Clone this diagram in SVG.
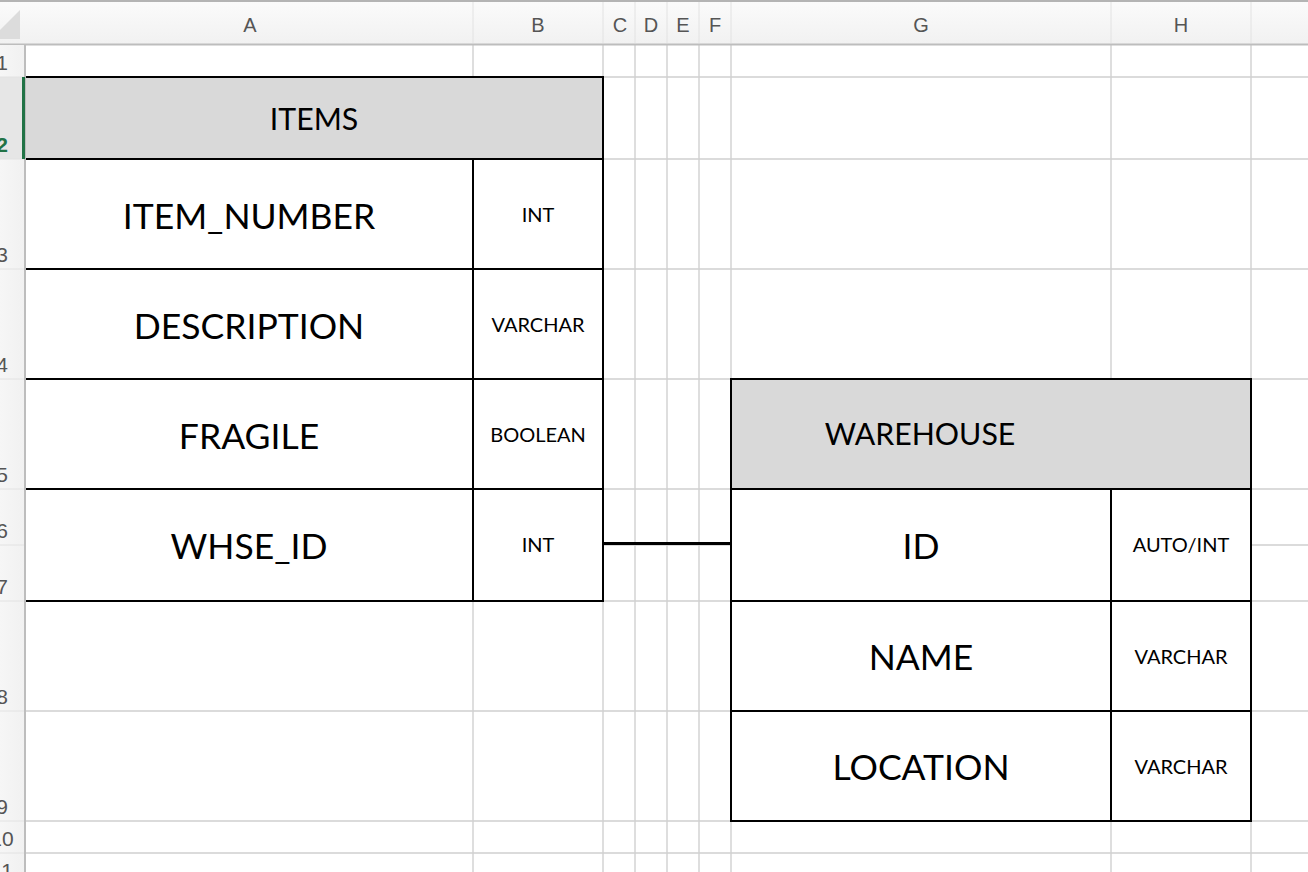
<svg xmlns="http://www.w3.org/2000/svg" width="1308" height="872" viewBox="0 0 1308 872">
  <defs>
    <linearGradient id="hdrGrad" x1="0" y1="0" x2="0" y2="1">
      <stop offset="0" stop-color="#fbfbfb"/>
      <stop offset="1" stop-color="#f1f1f1"/>
    </linearGradient>
    <linearGradient id="rowGrad" x1="0" y1="0" x2="1" y2="0">
      <stop offset="0" stop-color="#f6f6f6"/>
      <stop offset="1" stop-color="#f1f1f1"/>
    </linearGradient>
  </defs>
  <style>
    .grid { stroke: #d0d0d0; stroke-width: 1.4; fill: none; }
    .hsep { stroke: #e2e2e2; stroke-width: 1; fill: none; }
    .colhdr { font-family: "Liberation Sans", Arial, sans-serif; font-size: 20px; fill: #555555; text-anchor: middle; }
    .rowhdr { font-family: "Liberation Sans", Arial, sans-serif; font-size: 21px; fill: #555555; text-anchor: middle; }
    .border { stroke: #000000; stroke-width: 2; fill: none; }
    .cell { fill: #ffffff; }
    .title { fill: #d9d9d9; }
    .tname { font-family: Lato, "Open Sans", sans-serif; font-size: 30.3px; fill: #000; text-anchor: middle; }
    .fname { font-family: Lato, "Open Sans", sans-serif; font-size: 35.5px; fill: #000; text-anchor: middle; }
    .ftype { font-family: Lato, "Open Sans", sans-serif; font-size: 20px; fill: #000; text-anchor: middle; }
    .link { stroke: #000000; stroke-width: 3; fill: none; }
  </style>

  <!-- sheet background -->
  <rect x="0" y="0" width="1308" height="872" fill="#ffffff"/>

  <!-- grid lines -->
  <g id="gridlines">
    <path class="grid" d="M25 77H1308 M25 159H1308 M25 269H1308 M25 379H1308 M25 489H1308 M25 545H1308 M25 601H1308 M25 711H1308 M25 821H1308 M25 853H1308"/>
    <path class="grid" d="M473 44V872 M603 44V872 M635 44V872 M667 44V872 M699 44V872 M731 44V872 M1111 44V872 M1251 44V872"/>
  </g>

  <!-- column header -->
  <g id="column-header">
    <rect x="0" y="0" width="1308" height="44" fill="url(#hdrGrad)"/>
    <path class="hsep" d="M473 2V43 M603 2V43 M635 2V43 M667 2V43 M699 2V43 M731 2V43 M1111 2V43 M1251 2V43"/>
    <line x1="0" y1="1" x2="1308" y2="1" stroke="#b4b4b4" stroke-width="2"/>
    <line x1="0" y1="44.5" x2="1308" y2="44.5" stroke="#bdbdbd" stroke-width="2"/>
    <polygon points="20,10 20,39 -9,39" fill="#dcdcdc"/>
    <text class="colhdr" x="250" y="32">A</text>
    <text class="colhdr" x="538" y="32">B</text>
    <text class="colhdr" x="620" y="32">C</text>
    <text class="colhdr" x="651" y="32">D</text>
    <text class="colhdr" x="683" y="32">E</text>
    <text class="colhdr" x="715" y="32">F</text>
    <text class="colhdr" x="921" y="32">G</text>
    <text class="colhdr" x="1181" y="32">H</text>
  </g>

  <!-- row header -->
  <g id="row-header">
    <rect x="0" y="45" width="25" height="827" fill="url(#rowGrad)"/>
    <rect x="0" y="77" width="24" height="82" fill="#e6e6e6"/>
    <path class="hsep" d="M0 77H24 M0 159H24 M0 269H24 M0 379H24 M0 489H24 M0 545H24 M0 601H24 M0 711H24 M0 821H24 M0 853H24"/>
    <line x1="25" y1="44" x2="25" y2="872" stroke="#bdbdbd" stroke-width="2"/>
    <text class="rowhdr" x="2" y="70">1</text>
    <text class="rowhdr" x="2" y="152" style="fill:#217346;font-weight:bold">2</text>
    <text class="rowhdr" x="2" y="262">3</text>
    <text class="rowhdr" x="2" y="372">4</text>
    <text class="rowhdr" x="2" y="482">5</text>
    <text class="rowhdr" x="2" y="538">6</text>
    <text class="rowhdr" x="2" y="594">7</text>
    <text class="rowhdr" x="2" y="704">8</text>
    <text class="rowhdr" x="2" y="814">9</text>
    <text class="rowhdr" x="2" y="846">10</text>
    <text class="rowhdr" x="2" y="878">11</text>
  </g>

  <!-- ITEMS table -->
  <g id="items">
    <rect class="cell" x="26" y="77" width="577" height="524"/>
    <rect class="title" x="26" y="77" width="577" height="82"/>
    <path class="border" d="M26 77H603V601H26 M26 159H603 M26 269H603 M26 379H603 M26 489H603 M473 159V601"/>
    <rect x="22" y="77" width="3" height="82" fill="#217346"/>
    <text class="tname" x="314" y="130">ITEMS</text>
    <text class="fname" x="249" y="229">ITEM_NUMBER</text>
    <text class="ftype" x="538" y="222">INT</text>
    <text class="fname" x="249" y="339">DESCRIPTION</text>
    <text class="ftype" x="538" y="332">VARCHAR</text>
    <text class="fname" x="249" y="449">FRAGILE</text>
    <text class="ftype" x="538" y="442">BOOLEAN</text>
    <text class="fname" x="249" y="559">WHSE_ID</text>
    <text class="ftype" x="538" y="552">INT</text>
  </g>

  <!-- WAREHOUSE table -->
  <g id="warehouse">
    <rect class="cell" x="731" y="379" width="520" height="442"/>
    <rect class="title" x="731" y="379" width="520" height="110"/>
    <path class="border" d="M731 379H1251V821H731Z M731 489H1251 M731 601H1251 M731 711H1251 M1111 489V821"/>
    <text class="tname" x="920" y="445">WAREHOUSE</text>
    <text class="fname" x="921" y="559">ID</text>
    <text class="ftype" x="1181" y="552">AUTO/INT</text>
    <text class="fname" x="921" y="670">NAME</text>
    <text class="ftype" x="1181" y="664">VARCHAR</text>
    <text class="fname" x="921" y="780">LOCATION</text>
    <text class="ftype" x="1181" y="774">VARCHAR</text>
  </g>

  <!-- connectors -->
  <g id="connectors">
    <line class="link" x1="603" y1="543.5" x2="731" y2="543.5"/>
  </g>
</svg>
